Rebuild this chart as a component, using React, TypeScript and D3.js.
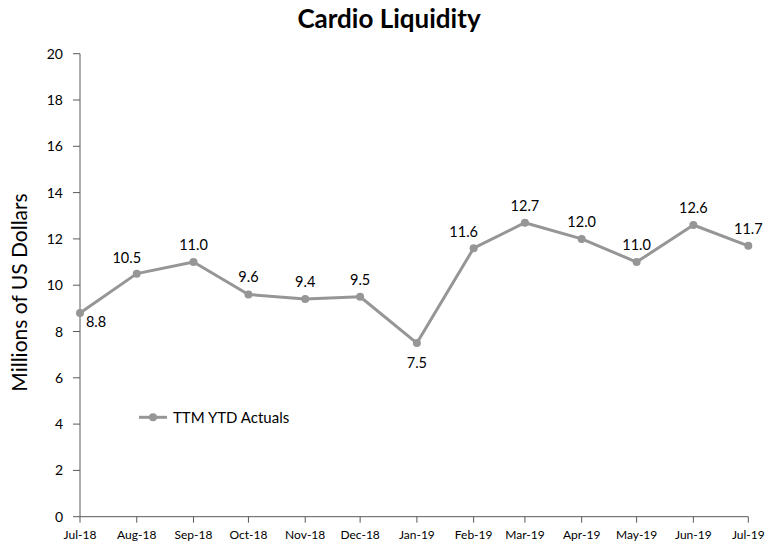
import React from "react";
import * as d3 from "d3";

const months = ["Jul-18","Aug-18","Sep-18","Oct-18","Nov-18","Dec-18","Jan-19","Feb-19","Mar-19","Apr-19","May-19","Jun-19","Jul-19"];
const monthStarts = ["2018-07-01","2018-08-01","2018-09-01","2018-10-01","2018-11-01","2018-12-01","2019-01-01","2019-02-01","2019-03-01","2019-04-01","2019-05-01","2019-06-01","2019-07-01"];
const ttmValues = [8.8, 10.5, 11.0, 9.6, 9.4, 9.5, 7.5, 11.6, 12.7, 12.0, 11.0, 12.6, 11.7];
const labelPlacement = ["belowRight","aboveLeft","above","above","above","above","below","aboveLeft","above","above","above","above","above"];
const yTicks = [0, 2, 4, 6, 8, 10, 12, 14, 16, 18, 20];
const seriesName = "TTM YTD Actuals";
const title = "Cardio Liquidity";
const yTitle = "Millions of US Dollars";

const W = 782, H = 546;
const FONT = "Lato, 'Open Sans', sans-serif";
const LINE = "#969696";
const AXIS = "#595959";

export default function App() {
  const parse = d3.timeParse("%Y-%m-%d");
  const dates = monthStarts.map((s) => parse(s) as Date);
  const x = d3.scaleTime().domain([dates[0], dates[dates.length - 1]]).range([80, 748.3]);
  const y = d3.scaleLinear().domain([0, 20]).range([516.7, 53.7]);
  const pts = ttmValues.map((v, i) => [x(dates[i]), y(v)] as [number, number]);
  const line = d3.line<[number, number]>().x((d) => d[0]).y((d) => d[1]);

  const labelPos = (p: [number, number], kind: string) => {
    switch (kind) {
      case "belowRight": return { x: p[0] + 16, y: p[1] + 14 };
      case "aboveLeft": return { x: p[0] - 10, y: p[1] - 11 };
      case "below": return { x: p[0], y: p[1] + 25 };
      default: return { x: p[0], y: p[1] - 12 };
    }
  };

  return (
    <svg width={W} height={H} style={{ position: "absolute", left: 0, top: 0, background: "#fff" }} fontFamily={FONT}>
      <rect width={W} height={H} fill="#fff" />
      <text x={389} y={28} textAnchor="middle" fontSize={26} fontWeight="bold" fill="#000">{title}</text>
      <text transform={`translate(27,${292.5}) rotate(-90)`} textAnchor="middle" fontSize={21} fill="#000">{yTitle}</text>

      {/* y axis */}
      <line x1={80} x2={80} y1={y(20)} y2={y(0)} stroke={AXIS} strokeWidth={1} />
      {yTicks.map((t) => (
        <g key={t}>
          <line x1={73} x2={80} y1={y(t)} y2={y(t)} stroke={AXIS} strokeWidth={1} />
          <text x={63} y={y(t) + 5} textAnchor="end" fontSize={14} fill="#000">{t}</text>
        </g>
      ))}

      {/* x axis */}
      <line x1={80} x2={748.3} y1={y(0)} y2={y(0)} stroke={AXIS} strokeWidth={1} />
      {dates.map((d, i) => (
        <g key={i}>
          <line x1={x(d)} x2={x(d)} y1={y(0)} y2={y(0) + 6} stroke={AXIS} strokeWidth={1} />
          <text x={x(d)} y={539} textAnchor="middle" fontSize={12} fill="#000">{months[i]}</text>
        </g>
      ))}

      {/* series */}
      <path d={line(pts) || ""} fill="none" stroke={LINE} strokeWidth={3} strokeLinejoin="round" />
      {pts.map((p, i) => (
        <circle key={i} cx={p[0]} cy={p[1]} r={4} fill={LINE} />
      ))}
      {pts.map((p, i) => {
        const lp = labelPos(p, labelPlacement[i]);
        return (
          <text key={i} x={lp.x} y={lp.y} textAnchor="middle" fontSize={14.5} fill="#000">{ttmValues[i].toFixed(1)}</text>
        );
      })}

      {/* legend */}
      <line x1={139} x2={167} y1={417.3} y2={417.3} stroke={LINE} strokeWidth={3} />
      <circle cx={153} cy={417.3} r={4} fill={LINE} />
      <text x={173} y={422.5} fontSize={15} fill="#000">{seriesName}</text>
    </svg>
  );
}
